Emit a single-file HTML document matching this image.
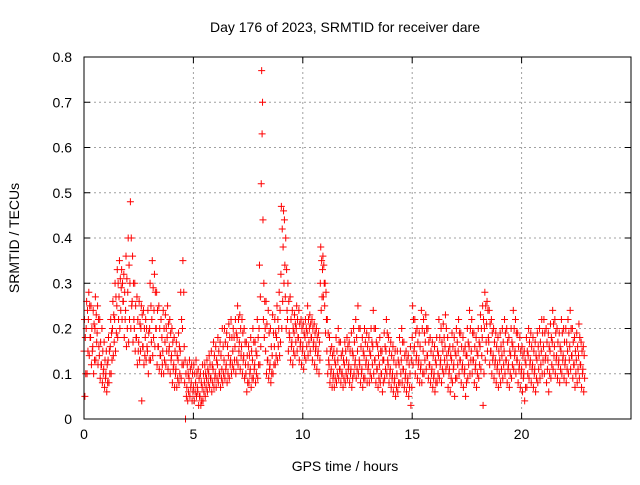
<!DOCTYPE html>
<html><head><meta charset="utf-8"><style>
body{margin:0;background:#fff}
svg text{font-family:"Liberation Sans",sans-serif;font-size:14px;fill:#000}
</style></head><body>
<svg id="chart" width="640" height="480" xmlns="http://www.w3.org/2000/svg">
<rect width="640" height="480" fill="#fff"/>
<text x="345" y="32" text-anchor="middle">Day 176 of 2023, SRMTID for receiver dare</text>
<text transform="translate(19,238) rotate(-90)" text-anchor="middle">SRMTID / TECUs</text>
<text x="345" y="471" text-anchor="middle">GPS time / hours</text>
<g id="grid"></g>
<g id="ticks"></g>
<g id="marks"></g>
<rect x="84" y="57" width="547" height="362" fill="none" stroke="#000" stroke-width="1"/>
</svg>
<script>
const xTicks=[0,5,10,15,20];
const yTicks=[0,0.1,0.2,0.3,0.4,0.5,0.6,0.7,0.8];
const yTickLabels=["0","0.1","0.2","0.3","0.4","0.5","0.6","0.7","0.8"];
const stepHours=0.1;
const valsMid=[.15,.2,.22,.18,.16,.2,.19,.14,.12,.11,.1,.13,.16,.2,.22,.25,.27,.29,.26,.24,.28,.3,.26,.2,.18,.17,.2,.16,.18,.15,.2,.22,.24,.2,.16,.14,.15,.17,.18,.16,.14,.12,.11,.13,.15,.2,.08,.07,.09,.08,.07,.08,.06,.05,.07,.08,.09,.1,.09,.11,.1,.12,.1,.11,.13,.12,.14,.13,.15,.16,.18,.17,.16,.14,.1,.12,.11,.13,.12,.14,.2,.52,.22,.15,.13,.12,.14,.16,.18,.2,.32,.38,.27,.22,.18,.17,.19,.2,.18,.17,.16,.18,.19,.2,.18,.17,.16,.15,.3,.33,.25,.15,.12,.11,.1,.12,.13,.11,.1,.12,.13,.12,.11,.14,.13,.15,.12,.11,.14,.13,.12,.14,.16,.13,.11,.12,.1,.13,.15,.12,.11,.1,.09,.1,.12,.13,.11,.1,.09,.1,.18,.16,.14,.13,.12,.15,.17,.14,.12,.11,.1,.12,.14,.13,.15,.16,.12,.11,.13,.12,.14,.15,.13,.12,.11,.14,.16,.15,.13,.12,.14,.16,.18,.2,.21,.17,.15,.14,.13,.12,.13,.14,.15,.13,.12,.14,.16,.15,.13,.12,.11,.1,.12,.14,.13,.12,.11,.13,.14,.15,.16,.14,.13,.15,.17,.16,.14,.13,.15,.14,.13,.15,.16,.14,.12,.13,.14,.12,.11];
const valsHigh=[.22,.26,.28,.25,.24,.27,.25,.22,.2,.17,.15,.18,.22,.26,.3,.33,.35,.33,.32,.36,.4,.48,.36,.3,.27,.26,.25,.24,.22,.24,.3,.35,.32,.28,.25,.22,.24,.23,.25,.22,.2,.18,.17,.19,.28,.35,.13,.12,.13,.12,.12,.13,.11,.1,.12,.12,.13,.14,.15,.17,.16,.18,.17,.2,.2,.19,.21,.22,.2,.22,.25,.23,.22,.2,.17,.16,.18,.2,.17,.22,.34,.77,.3,.26,.24,.2,.23,.22,.25,.28,.47,.46,.4,.3,.27,.24,.23,.25,.24,.22,.21,.22,.25,.23,.22,.21,.2,.19,.38,.36,.3,.22,.18,.16,.15,.18,.2,.17,.15,.17,.18,.17,.19,.2,.22,.25,.2,.18,.2,.19,.18,.2,.24,.2,.16,.18,.15,.19,.22,.18,.17,.16,.15,.15,.18,.2,.17,.15,.14,.16,.25,.22,.2,.19,.24,.22,.23,.2,.18,.17,.16,.18,.22,.2,.21,.23,.18,.16,.19,.18,.2,.22,.19,.18,.16,.2,.24,.22,.19,.18,.2,.23,.25,.28,.26,.24,.22,.2,.19,.18,.19,.2,.22,.2,.18,.2,.24,.22,.19,.18,.16,.15,.18,.2,.19,.18,.17,.19,.2,.22,.22,.2,.19,.21,.24,.22,.2,.19,.22,.2,.2,.22,.24,.2,.18,.19,.21,.17,.16];
const valsLow=[.05,.1,.14,.12,.1,.13,.12,.09,.08,.07,.06,.08,.1,.14,.15,.18,.2,.22,.18,.16,.17,.2,.17,.15,.12,.13,.04,.12,.13,.1,.13,.14,.16,.12,.11,.1,.1,.12,.11,.1,.08,.07,.07,.08,.09,.12,0,.04,.05,.04,.04,.05,.03,.03,.04,.05,.06,.07,.06,.07,.07,.08,.07,.08,.09,.08,.09,.1,.11,.1,.12,.11,.1,.09,.06,.08,.07,.09,.08,.09,.12,.63,.18,.1,.09,.08,.1,.12,.13,.14,.2,.3,.2,.15,.13,.12,.14,.15,.13,.12,.11,.13,.14,.15,.13,.12,.11,.1,.24,.27,.19,.1,.08,.07,.07,.08,.09,.08,.07,.08,.09,.08,.07,.1,.09,.1,.08,.07,.09,.08,.08,.09,.1,.08,.07,.08,.06,.09,.1,.08,.07,.06,.05,.06,.08,.08,.07,.06,.05,.03,.12,.1,.09,.08,.08,.1,.11,.09,.08,.07,.06,.08,.09,.08,.1,.11,.07,.06,.08,.05,.09,.1,.08,.07,.05,.09,.1,.1,.08,.07,.09,.11,.03,.13,.15,.12,.1,.09,.08,.07,.08,.09,.1,.08,.07,.09,.11,.1,.08,.07,.06,.04,.07,.09,.08,.07,.06,.08,.09,.1,.1,.08,.06,.09,.11,.1,.09,.08,.1,.09,.08,.1,.11,.09,.07,.08,.09,.07,.06];
const valsUpper=[.18,.24,.25,.2,.21,.23,.22,.17,.15,.13,.12,.15,.19,.23,.27,.3,.31,.3,.28,.31,.34,.4,.3,.25,.22,.21,.23,.2,.2,.19,.25,.29,.28,.24,.2,.18,.2,.2,.21,.19,.17,.15,.14,.16,.22,.28,.1,.1,.11,.1,.1,.1,.09,.08,.1,.1,.11,.12,.12,.14,.13,.15,.14,.16,.17,.16,.18,.18,.18,.19,.22,.2,.19,.17,.14,.14,.15,.17,.15,.18,.27,.7,.26,.21,.19,.16,.19,.19,.22,.24,.42,.44,.33,.26,.22,.2,.21,.22,.21,.2,.19,.2,.22,.21,.2,.19,.18,.17,.35,.34,.28,.19,.15,.14,.13,.15,.17,.14,.13,.15,.16,.15,.15,.17,.18,.2,.16,.15,.17,.16,.15,.17,.2,.17,.14,.15,.13,.16,.19,.15,.14,.13,.12,.13,.15,.17,.14,.13,.12,.13,.22,.19,.17,.16,.2,.19,.2,.17,.15,.14,.13,.15,.18,.17,.18,.2,.15,.14,.16,.15,.17,.19,.16,.15,.14,.17,.2,.19,.16,.15,.17,.2,.22,.25,.24,.21,.19,.17,.16,.15,.16,.17,.19,.17,.15,.17,.2,.19,.16,.15,.14,.13,.15,.17,.16,.15,.14,.16,.17,.19,.19,.17,.16,.18,.21,.19,.17,.16,.19,.17,.17,.19,.2,.17,.15,.16,.18,.15,.14];
const valsLower=[.1,.15,.18,.15,.13,.17,.16,.12,.1,.09,.08,.1,.13,.17,.19,.22,.24,.26,.22,.2,.22,.25,.22,.18,.15,.15,.16,.14,.16,.13,.17,.18,.2,.16,.14,.12,.13,.15,.15,.13,.11,.1,.09,.1,.12,.16,.05,.06,.07,.06,.06,.07,.05,.04,.06,.07,.08,.09,.08,.09,.09,.1,.09,.1,.11,.1,.12,.12,.13,.13,.15,.14,.13,.12,.08,.1,.09,.11,.1,.12,.16,.44,.2,.13,.11,.1,.12,.14,.16,.17,.26,.34,.24,.19,.16,.15,.17,.18,.16,.15,.14,.16,.17,.18,.16,.15,.14,.13,.27,.3,.22,.13,.1,.09,.09,.1,.11,.1,.09,.1,.11,.1,.09,.12,.11,.13,.1,.09,.12,.11,.1,.12,.13,.11,.09,.1,.08,.11,.13,.1,.09,.08,.07,.08,.1,.11,.09,.08,.07,.07,.15,.13,.12,.11,.1,.13,.14,.12,.1,.09,.08,.1,.12,.11,.13,.14,.1,.09,.11,.09,.12,.13,.11,.1,.08,.12,.13,.13,.11,.1,.12,.14,.1,.17,.18,.15,.13,.12,.11,.1,.11,.12,.13,.11,.1,.12,.14,.13,.11,.1,.09,.07,.1,.12,.11,.1,.09,.11,.12,.13,.13,.11,.1,.12,.14,.13,.12,.11,.13,.12,.11,.13,.14,.12,.1,.11,.12,.1,.09];
const X0=84,X1=631,Y0=419,Y1=57,XMAX=25,YMAX=0.8;
function sx(v){return X0+(X1-X0)*v/XMAX;}
function sy(v){return Y0-(Y0-Y1)*v/YMAX;}
const NS="http://www.w3.org/2000/svg";
const grid=document.getElementById('grid'),ticks=document.getElementById('ticks'),marks=document.getElementById('marks');
function mk(tag,attrs,parent){const e=document.createElementNS(NS,tag);for(const k in attrs)e.setAttribute(k,attrs[k]);parent.appendChild(e);return e;}
xTicks.forEach(t=>{
  const x=sx(t);
  if(t>0){const g=mk('line',{x1:x,x2:x,y1:Y1,y2:Y0,stroke:'#a0a0a0','stroke-dasharray':'2,3'},grid);
  
  }
  const l=mk('text',{x:x,y:Y0+20,'text-anchor':'middle'},ticks);l.textContent=String(t);
  
  
  mk('line',{x1:x,x2:x,y1:Y0,y2:Y0-6,stroke:'#000'},ticks);
  mk('line',{x1:x,x2:x,y1:Y1,y2:Y1+6,stroke:'#000'},ticks);
});
yTicks.forEach((t,i)=>{
  const y=sy(t);
  if(t>0&&t<YMAX){const g=mk('line',{x1:X0,x2:X1,y1:y,y2:y,stroke:'#a0a0a0','stroke-dasharray':'2,3'},grid);
  
  }
  const l=mk('text',{x:X0-12,y:y+5,'text-anchor':'end'},ticks);l.textContent=yTickLabels[i];
  
  
  mk('line',{x1:X0,x2:X0+6,y1:y,y2:y,stroke:'#000'},ticks);
  mk('line',{x1:X1,x2:X1-6,y1:y,y2:y,stroke:'#000'},ticks);
});
let d='';
[[valsMid,0],[valsHigh,0.02],[valsLow,0.04],[valsUpper,0.06],[valsLower,0.08]].forEach(([arr,off])=>{
  arr.forEach((v,i)=>{const x=sx(i*stepHours+off),y=sy(v);
    d+=`M${x-3.5},${y}h7M${x},${y-3.5}v7`;});
});
const p=mk('path',{d:d,stroke:'#ff0000','stroke-width':1,fill:'none'},marks);


</script>
</body></html>
